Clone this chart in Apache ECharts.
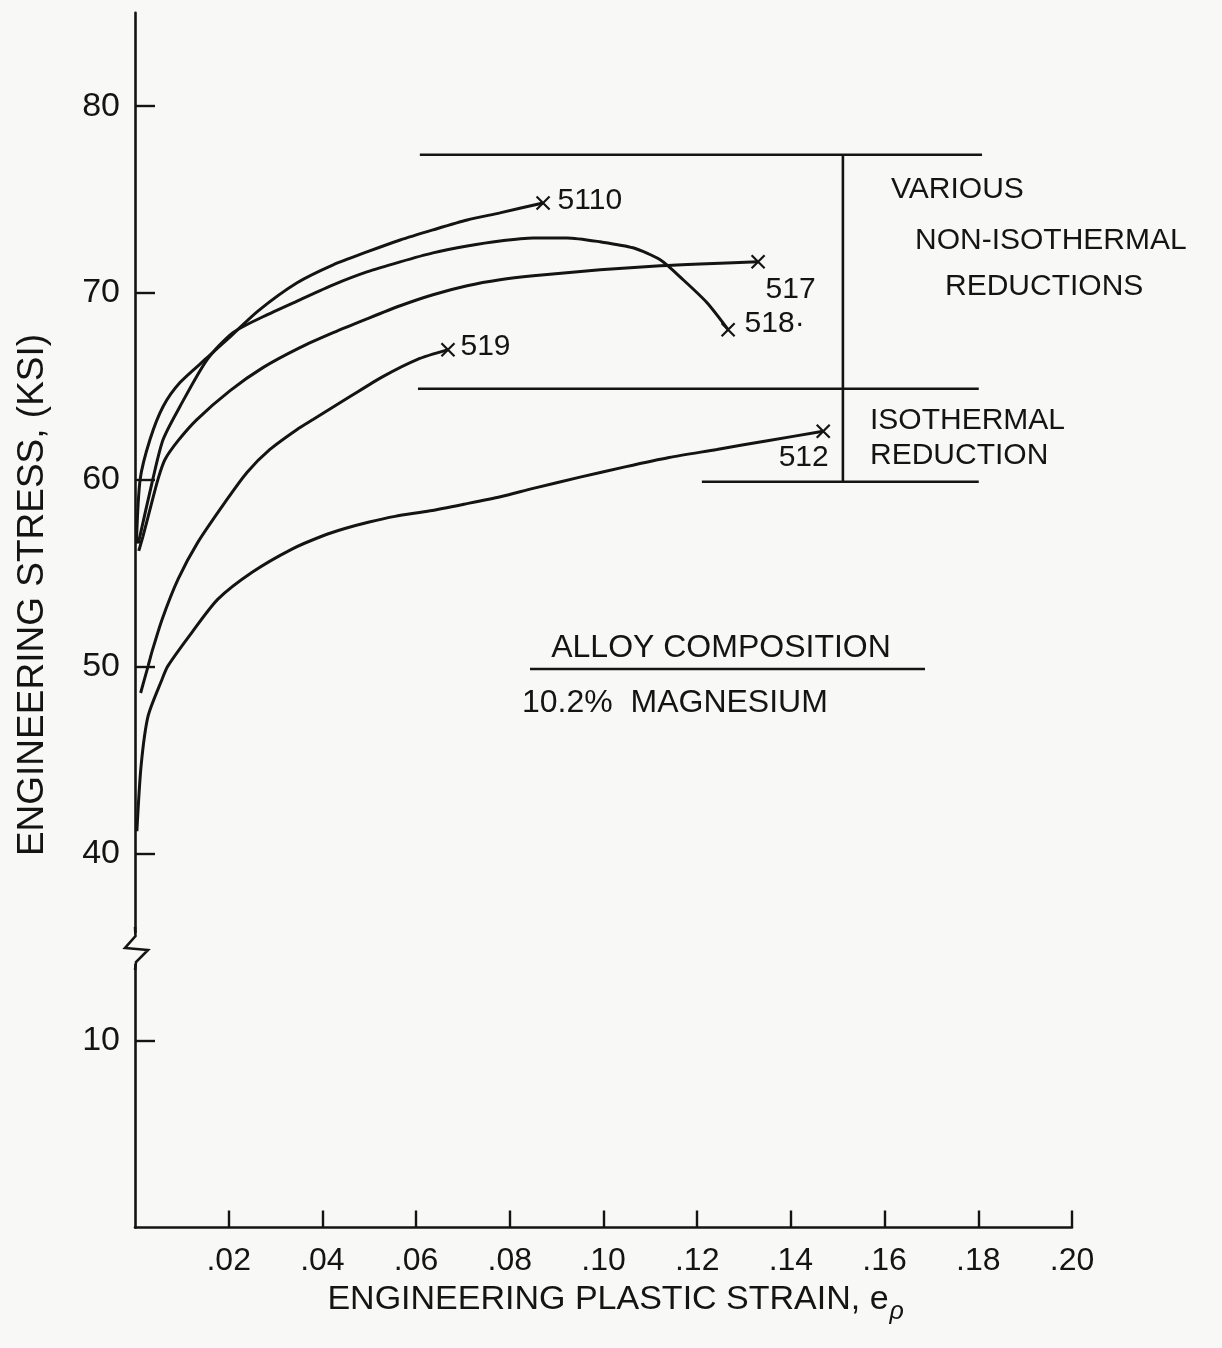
<!DOCTYPE html>
<html>
<head>
<meta charset="utf-8">
<script src="https://cdn.jsdelivr.net/npm/echarts@6/dist/echarts.min.js"></script>
<style>
html,body{margin:0;padding:0;background:#f8f8f6;}
#chart{width:1222px;height:1348px;}
</style>
</head>
<body>
<div id="chart"></div>
<script>
// ---------------- DATA ----------------
const xTickValues = [0.02, 0.04, 0.06, 0.08, 0.10, 0.12, 0.14, 0.16, 0.18, 0.20];
const xTickLabels = ['.02', '.04', '.06', '.08', '.10', '.12', '.14', '.16', '.18', '.20'];
const yTickValues = [10, 40, 50, 60, 70, 80];
const yTickLabels = ['10', '40', '50', '60', '70', '80'];
const yBreakFrom = 10;   // axis is broken between 10 and 40 ksi
const yBreakTo = 40;

const strain5110 = [0.0003, 0.0011, 0.0032, 0.0060, 0.0096, 0.0154, 0.0203, 0.0263, 0.0346, 0.0423, 0.0495, 0.0566, 0.0636, 0.0709, 0.0779, 0.0871];
const stress5110 = [56.6, 60.03, 62.16, 63.93, 65.21, 66.54, 67.66, 69.05, 70.55, 71.51, 72.20, 72.84, 73.38, 73.91, 74.29, 74.82];

const strain518 = [0.0007, 0.0038, 0.0060, 0.0096, 0.0154, 0.0209, 0.0273, 0.0352, 0.0423, 0.0495, 0.0566, 0.0636, 0.0709, 0.0779, 0.0850, 0.0922, 0.0993, 0.1063, 0.1121, 0.1170, 0.1221, 0.1266];
const stress518 = [56.6, 60.03, 62.16, 63.93, 66.44, 67.88, 68.73, 69.64, 70.44, 71.13, 71.67, 72.15, 72.52, 72.79, 72.95, 72.95, 72.74, 72.42, 71.78, 70.71, 69.48, 68.04];

const strain517 = [0.0008, 0.0017, 0.0032, 0.0049, 0.0064, 0.0092, 0.0132, 0.0203, 0.0273, 0.0352, 0.0423, 0.0495, 0.0566, 0.0636, 0.0709, 0.0779, 0.0850, 0.0993, 0.1121, 0.1206, 0.1330];
const stress517 = [56.2, 56.98, 58.42, 60.03, 61.09, 62.1, 63.23, 64.78, 66.01, 67.08, 67.88, 68.62, 69.32, 69.91, 70.39, 70.71, 70.92, 71.24, 71.46, 71.56, 71.67];

const strain519 = [0.0012, 0.0028, 0.0036, 0.0058, 0.0092, 0.0134, 0.0192, 0.0239, 0.0288, 0.0346, 0.0380, 0.0459, 0.0529, 0.0602, 0.0668];
const stress519 = [48.6, 50.04, 50.79, 52.55, 54.69, 56.66, 58.8, 60.4, 61.63, 62.7, 63.23, 64.46, 65.53, 66.44, 66.97];

const strain512 = [0.0004, 0.0013, 0.0028, 0.0058, 0.0070, 0.0122, 0.0177, 0.0250, 0.0335, 0.0400, 0.0448, 0.0500, 0.0555, 0.0630, 0.0702, 0.0780, 0.0850, 0.0950, 0.1046, 0.1140, 0.1242, 0.1350, 0.1469];
const stress512 = [41.2, 44.7, 47.37, 49.35, 50.04, 51.86, 53.62, 55.06, 56.3, 57.0, 57.4, 57.75, 58.05, 58.35, 58.7, 59.1, 59.55, 60.15, 60.7, 61.2, 61.63, 62.1, 62.6];

// bracket lines grouping the specimens
const bracketTopStress = 77.4;
const bracketTopStrain = [0.0608, 0.1808];
const bracketMidStress = 64.88;
const bracketMidStrain = [0.0604, 0.1801];
const bracketBotStress = 59.9;
const bracketBotStrain = [0.1210, 0.1801];
const bracketVertStrain = 0.1511;

// ---------------- STYLE ----------------
const INK = '#141414';
const BG = '#f8f8f6';
const FONT = '"Liberation Sans", Arial, sans-serif';

// broken-axis scale: 0-10 ksi and 40-80 ksi, each tick step drawn equal
function toVisual(s) {
  if (s <= yBreakFrom) return s / 10;
  if (s < yBreakTo) return 1 + (s - yBreakFrom) / (yBreakTo - yBreakFrom);
  return 2 + (s - yBreakTo) / 10;
}
function pairs(xs, ys) { return xs.map((x, i) => [x, toVisual(ys[i])]); }

const curves = [
  { name: '5110', xs: strain5110, ys: stress5110, label: '5110', dx: 17, dy: 0, align: 'left' },
  { name: '518', xs: strain518, ys: stress518, label: '518·', dx: 19, dy: -3, align: 'left' },
  { name: '517', xs: strain517, ys: stress517, label: '517', dx: 10, dy: 30, align: 'left' },
  { name: '519', xs: strain519, ys: stress519, label: '519', dx: 15, dy: 0, align: 'left' },
  { name: '512', xs: strain512, ys: stress512, label: '512', dx: 8, dy: 29, align: 'right' }
];

const series = curves.map(c => ({
  type: 'line', name: c.name, data: pairs(c.xs, c.ys),
  smooth: 0.25, symbol: 'none', silent: true,
  lineStyle: { color: INK, width: 3 }, z: 3
}));

const SYM = 13;
series.push({
  type: 'scatter', name: 'fracture',
  symbol: 'path://M0 0L10 10M10 0L0 10', symbolSize: SYM,
  itemStyle: { color: 'none', borderColor: INK, borderWidth: 2.2, opacity: 1 },
  data: curves.map(c => ({
    value: [c.xs[c.xs.length - 1], toVisual(c.ys[c.ys.length - 1])],
    label: {
      show: true, formatter: c.label,
      position: [SYM / 2 + c.dx, SYM / 2 + c.dy],
      align: c.align, verticalAlign: 'middle', opacity: 1,
      color: INK, fontFamily: FONT, fontSize: 30
    }
  })),
  z: 4, silent: true
});

function segment(name, a, b) {
  return {
    type: 'line', name: name, data: [a, b], symbol: 'none', silent: true,
    lineStyle: { color: INK, width: 2.6 }, z: 2
  };
}
series.push(segment('bracketTop', [bracketTopStrain[0], toVisual(bracketTopStress)], [bracketTopStrain[1], toVisual(bracketTopStress)]));
series.push(segment('bracketMid', [bracketMidStrain[0], toVisual(bracketMidStress)], [bracketMidStrain[1], toVisual(bracketMidStress)]));
series.push(segment('bracketBot', [bracketBotStrain[0], toVisual(bracketBotStress)], [bracketBotStrain[1], toVisual(bracketBotStress)]));
series.push(segment('bracketVert', [bracketVertStrain, toVisual(bracketTopStress)], [bracketVertStrain, toVisual(bracketBotStress)]));

function txt(text, x, y, size, align, extra, fontPrefix) {
  return Object.assign({
    type: 'text', x: x, y: y, z: 10, silent: true,
    style: { text: text, fill: INK, font: (fontPrefix || '') + size + 'px ' + FONT, align: align || 'left', verticalAlign: 'middle' }
  }, extra || {});
}

// measure main x-title to place the subscript
const ctx = document.createElement('canvas').getContext('2d');
ctx.font = '34px ' + FONT;
const xTitleMain = 'ENGINEERING PLASTIC STRAIN, e';
const xTitleW = ctx.measureText(xTitleMain).width;
const xTitleLeft = 608 - xTitleW / 2;

const graphics = [
  txt('VARIOUS', 891, 190, 30),
  txt('NON-ISOTHERMAL', 915, 241, 30),
  txt('REDUCTIONS', 945, 287, 30),
  txt('ISOTHERMAL', 870, 421, 30),
  txt('REDUCTION', 870, 456, 30),
  txt('ALLOY COMPOSITION', 721, 648, 32, 'center'),
  { type: 'line', z: 10, silent: true, shape: { x1: 530, y1: 669, x2: 925, y2: 669 }, style: { stroke: INK, lineWidth: 2.6 } },
  txt('10.2%  MAGNESIUM', 522, 703, 32),
  txt('ENGINEERING STRESS, (KSI)', 33, 595, 37, 'center', { rotation: Math.PI / 2 }),
  txt(xTitleMain, xTitleLeft, 1300, 34),
  txt('ρ', xTitleLeft + xTitleW + 1, 1312, 25, 'left', null, 'italic '),
  // axis break mark
  { type: 'rect', z: 20, silent: true, shape: { x: 130, y: 933, width: 11, height: 31 }, style: { fill: BG } },
  { type: 'polyline', z: 21, silent: true, shape: { points: [[135, 927], [135.5, 936], [125, 948], [148, 950], [136, 962], [135, 970]] }, style: { stroke: INK, lineWidth: 2.6, fill: null } }
];

const chart = echarts.init(document.getElementById('chart'));
chart.setOption({
  backgroundColor: BG,
  animation: false,
  grid: { left: 135, right: 150, top: 12.7, bottom: 120.5, outerBoundsMode: 'none', containLabel: false },
  xAxis: {
    type: 'value', min: 0, max: 0.2, interval: 0.02,
    axisLine: { show: true, lineStyle: { color: INK, width: 2.6 } },
    axisTick: { show: true, inside: true, length: 17, customValues: xTickValues, lineStyle: { color: INK, width: 2.4 } },
    splitLine: { show: false },
    axisLabel: {
      color: INK, fontFamily: FONT, fontSize: 32, margin: 18,
      customValues: xTickValues,
      formatter: v => {
        const i = xTickValues.findIndex(t => Math.abs(t - v) < 1e-9);
        return i >= 0 ? xTickLabels[i] : '';
      }
    }
  },
  yAxis: {
    type: 'value', min: 0, max: 6.5, interval: 1,
    axisLine: { show: true, lineStyle: { color: INK, width: 2.6 } },
    axisTick: { show: true, inside: true, length: 20, customValues: yTickValues.map(toVisual), lineStyle: { color: INK, width: 2.4 } },
    splitLine: { show: false },
    axisLabel: {
      color: INK, fontFamily: FONT, fontSize: 34, margin: 15,
      customValues: yTickValues.map(toVisual),
      formatter: v => {
        const i = yTickValues.findIndex(t => Math.abs(toVisual(t) - v) < 1e-9);
        return i >= 0 ? yTickLabels[i] : '';
      }
    }
  },
  series: series,
  graphic: graphics
});
</script>
</body>
</html>
